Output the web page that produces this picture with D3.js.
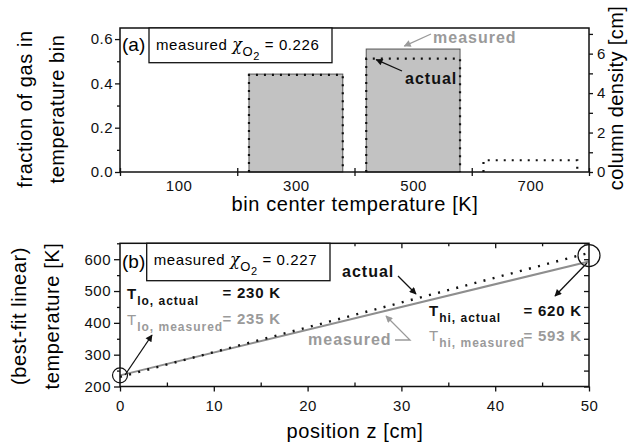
<!DOCTYPE html>
<html>
<head>
<meta charset="utf-8">
<script src="https://cdn.jsdelivr.net/npm/d3@7"></script>
<style>
  body { margin: 0; background: #fff; }
  svg { display: block; }
</style>
</head>
<body>
<div id="chart"></div>
<script>
// panel (a): temperature bins
const binCenters = [100, 300, 500, 700];
const measuredFraction = [0, 0.442, 0.555, 0];
const actualFraction = [0, 0.438, 0.512, 0.053];
const binHalf = 80;

// panel (b): linear profile
const positionEnds = [0, 50];
const actualT = [230, 620];
const measuredT = [235, 593];

const W = 628, H = 445;
const font = "'Liberation Sans', Arial, sans-serif";
const grey = "#9a9a9a";

const svg = d3.select("#chart").append("svg")
  .attr("width", W).attr("height", H)
  .style("font-family", font);

const defs = svg.append("defs");
function marker(id, color) {
  defs.append("marker")
    .attr("id", id)
    .attr("viewBox", "0 0 10 10")
    .attr("refX", 9).attr("refY", 5)
    .attr("markerWidth", 9).attr("markerHeight", 7)
    .attr("markerUnits", "userSpaceOnUse")
    .attr("orient", "auto")
    .append("path").attr("d", "M0,0L10,5L0,10z").attr("fill", color);
}
marker("ab", "#111");
marker("ag", grey);

function arrow(pts, color, id) {
  svg.append("path")
    .attr("d", d3.line()(pts))
    .attr("fill", "none")
    .attr("stroke", color)
    .attr("stroke-width", 1.3)
    .attr("marker-end", `url(#${id})`);
}

function styleAxis(g, size) {
  g.select(".domain").remove();
  g.selectAll("line").attr("stroke", "#111").attr("stroke-width", 1.3);
  g.selectAll("text").attr("fill", "#111").style("font-size", (size || 15) + "px")
    .style("font-family", font).style("letter-spacing", "0.5px");
}

// ---------- panel (a) ----------
const xA = d3.scaleLinear().domain([0, 800]).range([120, 589]);
const yA = d3.scaleLinear().domain([0, 0.65]).range([172, 28]);
const yA2 = d3.scaleLinear().domain([0, 7.3]).range([172, 28]);

// bars (measured)
svg.append("g").selectAll("rect")
  .data(binCenters.map((c, i) => ({ c, v: measuredFraction[i] })).filter(d => d.v > 0))
  .join("rect")
  .attr("x", d => xA(d.c - binHalf))
  .attr("width", d => xA(d.c + binHalf) - xA(d.c - binHalf))
  .attr("y", d => yA(d.v))
  .attr("height", d => yA(0) - yA(d.v))
  .attr("fill", "#c2c2c2")
  .attr("stroke", "#555")
  .attr("stroke-width", 1);

// actual outlines (dotted)
svg.append("g").selectAll("path")
  .data(binCenters.map((c, i) => ({ c, v: actualFraction[i] })).filter(d => d.v > 0))
  .join("path")
  .attr("d", d => d3.line()([
    [xA(d.c - binHalf), yA(0)], [xA(d.c - binHalf), yA(d.v)],
    [xA(d.c + binHalf), yA(d.v)], [xA(d.c + binHalf), yA(0)]
  ]))
  .attr("fill", "none")
  .attr("stroke", "#111")
  .attr("stroke-width", 2.2)
  .attr("stroke-dasharray", "2,6");

// frame
svg.append("rect").attr("x", 120).attr("y", 28).attr("width", 469).attr("height", 144)
  .attr("fill", "none").attr("stroke", "#111").attr("stroke-width", 1.5);

// axes
svg.append("g").attr("transform", "translate(120,0)")
  .call(d3.axisLeft(yA).tickValues([0, 0.2, 0.4, 0.6]).tickFormat(d3.format(".1f"))
    .tickSize(5).tickPadding(2).tickSizeOuter(0))
  .call(g => styleAxis(g));
svg.append("g").attr("transform", "translate(120,0)")
  .call(d3.axisLeft(yA).tickValues([0.1, 0.3, 0.5]).tickFormat("").tickSize(3).tickSizeOuter(0))
  .call(g => styleAxis(g));
svg.append("g").attr("transform", "translate(589,0)")
  .call(d3.axisRight(yA2).tickValues([0, 2, 4, 6]).tickSize(4).tickPadding(4).tickSizeOuter(0))
  .call(g => styleAxis(g));
svg.append("g").attr("transform", "translate(589,0)")
  .call(d3.axisRight(yA2).tickValues([1, 3, 5, 7]).tickFormat("").tickSize(4).tickSizeOuter(0))
  .call(g => styleAxis(g));
svg.append("g").attr("transform", "translate(0,172)")
  .call(d3.axisBottom(xA).tickValues([0, 200, 400, 600, 800]).tickFormat("").tickSize(4).tickSizeOuter(0))
  .call(g => styleAxis(g))
  .call(g => g.selectAll("line").attr("y1", -4));
svg.append("g").attr("transform", "translate(0,172)")
  .call(d3.axisBottom(xA).tickValues(binCenters).tickSize(0).tickPadding(8).tickSizeOuter(0))
  .call(g => styleAxis(g));

// axis titles
svg.append("text").attr("x", 355).attr("y", 211).attr("text-anchor", "middle")
  .style("font-size", "20px").style("letter-spacing", "0.6px").text("bin center temperature [K]");
svg.append("text").attr("transform", "translate(32,109) rotate(-90)").attr("text-anchor", "middle")
  .style("font-size", "20px").style("letter-spacing", "0.6px").text("fraction of gas in");
svg.append("text").attr("transform", "translate(64,109) rotate(-90)").attr("text-anchor", "middle")
  .style("font-size", "20px").style("letter-spacing", "0.6px").text("temperature bin");
svg.append("text").attr("transform", "translate(623,98) rotate(-90)").attr("text-anchor", "middle")
  .style("font-size", "20px").style("letter-spacing", "0.4px").text("column density [cm]");

function chiBox(x0, y0, x1, y1, baseline, label, value, tag, tagBase) {
  svg.append("rect").attr("x", x0).attr("y", y0).attr("width", x1 - x0).attr("height", y1 - y0)
    .attr("fill", "#fff").attr("stroke", "#111").attr("stroke-width", 1.3);
  svg.append("text").attr("x", 122).attr("y", tagBase).style("font-size", "19px").text(tag);
  const t = svg.append("text").attr("x", x0 + 7).attr("y", baseline)
    .style("font-size", "15px").style("letter-spacing", "0.6px");
  t.append("tspan").text(label + " ");
  t.append("tspan").style("font-size", "16px").style("font-family", "'DejaVu Serif', serif")
    .style("font-style", "italic").text("χ");
  t.append("tspan").attr("dy", 6).style("font-size", "13px").text("O");
  t.append("tspan").attr("dy", 4).style("font-size", "11px").text("2");
  t.append("tspan").attr("dy", -10).text(" = " + value);
}
chiBox(149, 28, 332, 62.7, 50, "measured", "0.226", "(a)", 51);

// annotations panel (a)
svg.append("text").attr("x", 433).attr("y", 43).attr("fill", grey)
  .style("font-size", "16px").style("font-weight", "bold").style("letter-spacing", "1px").text("measured");
arrow([[431, 34], [xA(485), yA(measuredFraction[2]) - 3]], grey, "ag");
svg.append("text").attr("x", 405).attr("y", 84).attr("fill", "#111")
  .style("font-size", "16px").style("font-weight", "bold").style("letter-spacing", "1px").text("actual");
arrow([[402, 71], [xA(437), yA(actualFraction[2]) + 1]], "#111", "ab");

// ---------- panel (b) ----------
const xB = d3.scaleLinear().domain([0, 50]).range([120, 589]);
const yB = d3.scaleLinear().domain([200, 650]).range([386.5, 243.3]);

svg.append("path")
  .attr("d", d3.line()(positionEnds.map((p, i) => [xB(p), yB(measuredT[i])])))
  .attr("stroke", "#8e8e8e").attr("stroke-width", 2).attr("fill", "none");
svg.append("path")
  .attr("d", d3.line()(positionEnds.map((p, i) => [xB(p), yB(actualT[i])])))
  .attr("stroke", "#111").attr("stroke-width", 2.4).attr("fill", "none")
  .attr("stroke-dasharray", "2,7.4");

svg.append("rect").attr("x", 120).attr("y", 243.3).attr("width", 469).attr("height", 143.2)
  .attr("fill", "none").attr("stroke", "#111").attr("stroke-width", 1.5);

svg.append("g").attr("transform", "translate(120,0)")
  .call(d3.axisLeft(yB).tickValues([200, 300, 400, 500, 600]).tickSize(6).tickPadding(3).tickSizeOuter(0))
  .call(g => styleAxis(g));
svg.append("g").attr("transform", "translate(120,0)")
  .call(d3.axisLeft(yB).tickValues([250, 350, 450, 550, 650]).tickFormat("").tickSize(3).tickSizeOuter(0))
  .call(g => styleAxis(g));
svg.append("g").attr("transform", "translate(589,0)")
  .call(d3.axisLeft(yB).tickValues(d3.range(200, 651, 50)).tickFormat("").tickSize(5).tickSizeOuter(0))
  .call(g => styleAxis(g));
svg.append("g").attr("transform", "translate(0,386.5)")
  .call(d3.axisBottom(xB).tickValues([0, 10, 20, 30, 40, 50]).tickSize(5).tickPadding(9).tickSizeOuter(0))
  .call(g => styleAxis(g));
svg.append("g").attr("transform", "translate(0,386.5)")
  .call(d3.axisTop(xB).tickValues([5, 15, 25, 35, 45]).tickFormat("").tickSize(4).tickSizeOuter(0))
  .call(g => styleAxis(g));
svg.append("g").attr("transform", "translate(0,243.3)")
  .call(d3.axisBottom(xB).tickValues([10, 20, 30, 40]).tickFormat("").tickSize(5).tickSizeOuter(0))
  .call(g => styleAxis(g));
svg.append("g").attr("transform", "translate(0,243.3)")
  .call(d3.axisBottom(xB).tickValues([5, 15, 25, 35, 45]).tickFormat("").tickSize(3).tickSizeOuter(0))
  .call(g => styleAxis(g));

svg.append("text").attr("x", 355).attr("y", 438).attr("text-anchor", "middle")
  .style("font-size", "20px").style("letter-spacing", "0.6px").text("position z [cm]");
svg.append("text").attr("transform", "translate(26,316) rotate(-90)").attr("text-anchor", "middle")
  .style("font-size", "20px").style("letter-spacing", "0.6px").text("(best-fit linear)");
svg.append("text").attr("transform", "translate(59,316) rotate(-90)").attr("text-anchor", "middle")
  .style("font-size", "20px").style("letter-spacing", "0.6px").text("temperature [K]");

chiBox(146.7, 243.3, 330, 280.7, 265, "measured", "0.227", "(b)", 268);

// endpoint circles
svg.append("circle").attr("cx", xB(0)).attr("cy", yB(measuredT[0])).attr("r", 7.5)
  .attr("fill", "none").attr("stroke", "#111").attr("stroke-width", 1.2);
svg.append("circle").attr("cx", xB(50)).attr("cy", yB((actualT[1] + measuredT[1]) / 2 + 5)).attr("r", 11)
  .attr("fill", "none").attr("stroke", "#111").attr("stroke-width", 1.2);

function tLabel(x, y, sub, color) {
  const t = svg.append("text").attr("x", x).attr("y", y).attr("fill", color)
    .style("font-weight", "bold").style("letter-spacing", "1px");
  t.append("tspan").style("font-size", "15px").style("font-weight", color === "#111" ? "bold" : "normal").text("T");
  t.append("tspan").attr("dy", 6).style("font-size", "12px").text(sub);
}
function valLabel(x, y, txt, color) {
  svg.append("text").attr("x", x).attr("y", y).attr("fill", color).attr("text-anchor", "end")
    .style("font-size", "15px").style("font-weight", "bold").style("letter-spacing", "0.8px").text(txt);
}

tLabel(127, 299, "lo, actual", "#111");
valLabel(281, 298, `= ${actualT[0]} K`, "#111");
tLabel(127, 325, "lo, measured", grey);
valLabel(281, 324, `= ${measuredT[0]} K`, grey);
tLabel(429, 316, "hi, actual", "#111");
valLabel(582, 316, `= ${actualT[1]} K`, "#111");
tLabel(429, 341, "hi, measured", grey);
valLabel(582, 341, `= ${measuredT[1]} K`, grey);

arrow([[125, 375], [152, 335]], "#111", "ab");
arrow([[587, 263], [555, 296]], "#111", "ab");

svg.append("text").attr("x", 342).attr("y", 277).attr("fill", "#111")
  .style("font-size", "16px").style("font-weight", "bold").style("letter-spacing", "1px").text("actual");
arrow([[398, 276], [416, 294]], "#111", "ab");
svg.append("text").attr("x", 308).attr("y", 345).attr("fill", grey)
  .style("font-size", "16px").style("font-weight", "bold").style("letter-spacing", "1px").text("measured");
arrow([[395, 340], [410, 340], [386, 316]], grey, "ag");
</script>
</body>
</html>
